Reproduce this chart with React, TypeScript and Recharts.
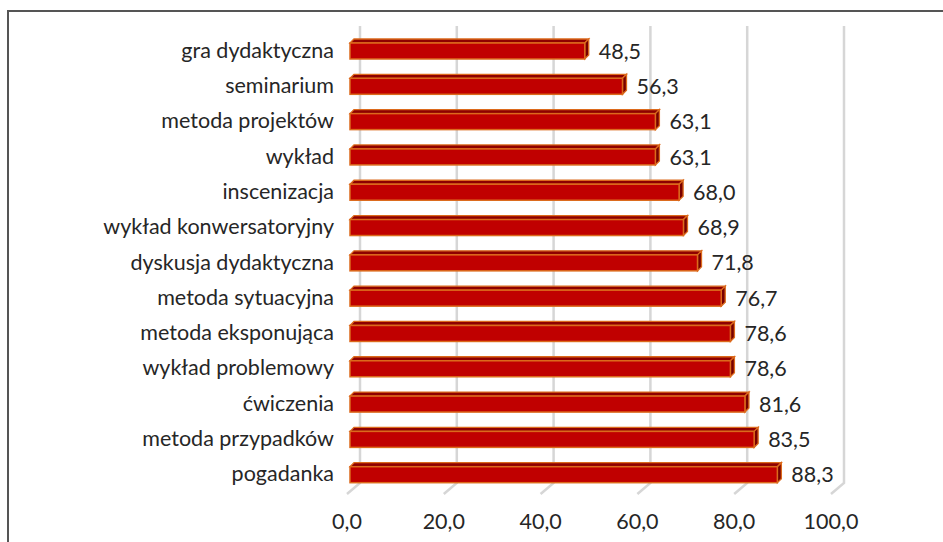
import React from 'react';
import { BarChart, Bar, XAxis, YAxis, CartesianGrid, LabelList } from 'recharts';

const categories = [
  'gra dydaktyczna',
  'seminarium',
  'metoda projektów',
  'wykład',
  'inscenizacja',
  'wykład konwersatoryjny',
  'dyskusja dydaktyczna',
  'metoda sytuacyjna',
  'metoda eksponująca',
  'wykład problemowy',
  'ćwiczenia',
  'metoda przypadków',
  'pogadanka',
];

const values = [48.5, 56.3, 63.1, 63.1, 68.0, 68.9, 71.8, 76.7, 78.6, 78.6, 81.6, 83.5, 88.3];

const xTicks = [0, 20, 40, 60, 80, 100];

const data = categories.map((name, i) => ({ name, value: values[i] }));

const FONT = 'Lato, "Open Sans", sans-serif';
const TEXT = '#262626';
const SIZE = 21.5;
const fmt = (v: number) => v.toFixed(1).replace('.', ',');

// 3D-looking bar: front face, top face and a side face
const Bar3D = (props: any) => {
  const { x, y, width, height } = props;
  const d = 4;
  return (
    <g>
      <polygon
        points={`${x},${y} ${x + d},${y - d} ${x + width + d},${y - d} ${x + width},${y}`}
        fill="#8e0000"
        stroke="#dc6a1c"
        strokeWidth={1.3}
      />
      <polygon
        points={`${x + width},${y} ${x + width + d},${y - d} ${x + width + d},${y + height - d} ${x + width},${y + height}`}
        fill="#780000"
        stroke="#dc6a1c"
        strokeWidth={1.3}
      />
      <rect x={x} y={y} width={width} height={height} fill="#c00000" stroke="#dc6a1c" strokeWidth={1.5} />
    </g>
  );
};

// back-wall gridline with a slanted foot on the floor
const GridLine = (props: any) => {
  const { x1, y1, y2, index } = props;
  const bx = x1 + 10;
  return (
    <path
      key={`g-${index}`}
      d={`M${bx},${y1 - 7} L${bx},${y2 - 9} L${x1 - 3},${y2 + 2}`}
      fill="none"
      stroke="#d6d6d6"
      strokeWidth={2.5}
    />
  );
};

const CategoryTick = (props: any) => {
  const { x, y, payload } = props;
  return (
    <text x={x} y={y} dy={7} textAnchor="end" fill={TEXT} fontSize={SIZE} fontFamily={FONT}>
      {payload.value}
    </text>
  );
};

const ValueTick = (props: any) => {
  const { x, y, payload } = props;
  return (
    <text x={x - 3} y={y} dy={29} textAnchor="middle" fill={TEXT} fontSize={SIZE} fontFamily={FONT}>
      {fmt(payload.value)}
    </text>
  );
};

export default function App() {
  return (
    <div style={{ position: 'absolute', left: 0, top: 0, width: 943, height: 542, background: '#fff' }}>
      <div
        style={{
          position: 'absolute',
          left: 7,
          top: 10,
          width: 940,
          height: 540,
          borderTop: '2px solid #555',
          borderLeft: '2px solid #555',
        }}
      />
      <BarChart
        width={943}
        height={542}
        data={data}
        layout="vertical"
        margin={{ top: 33, right: 109, bottom: 20, left: 0 }}
        barCategoryGap={0}
        style={{ position: 'absolute', left: 0, top: 0 }}
      >
        <CartesianGrid horizontal={false} vertical={GridLine as any} />
        <XAxis
          type="number"
          domain={[0, 100]}
          ticks={xTicks}
          axisLine={false}
          tickLine={false}
          height={30}
          tick={<ValueTick />}
        />
        <YAxis
          type="category"
          dataKey="name"
          width={350}
          axisLine={false}
          tickLine={false}
          tickMargin={10}
          tick={<CategoryTick />}
          interval={0}
        />
        <Bar dataKey="value" barSize={16} shape={<Bar3D />} isAnimationActive={false}>
          <LabelList
            dataKey="value"
            position="right"
            offset={14}
            formatter={(v: any) => fmt(Number(v))}
            fill={TEXT}
            fontSize={SIZE}
            fontFamily={FONT}
          />
        </Bar>
      </BarChart>
    </div>
  );
}
